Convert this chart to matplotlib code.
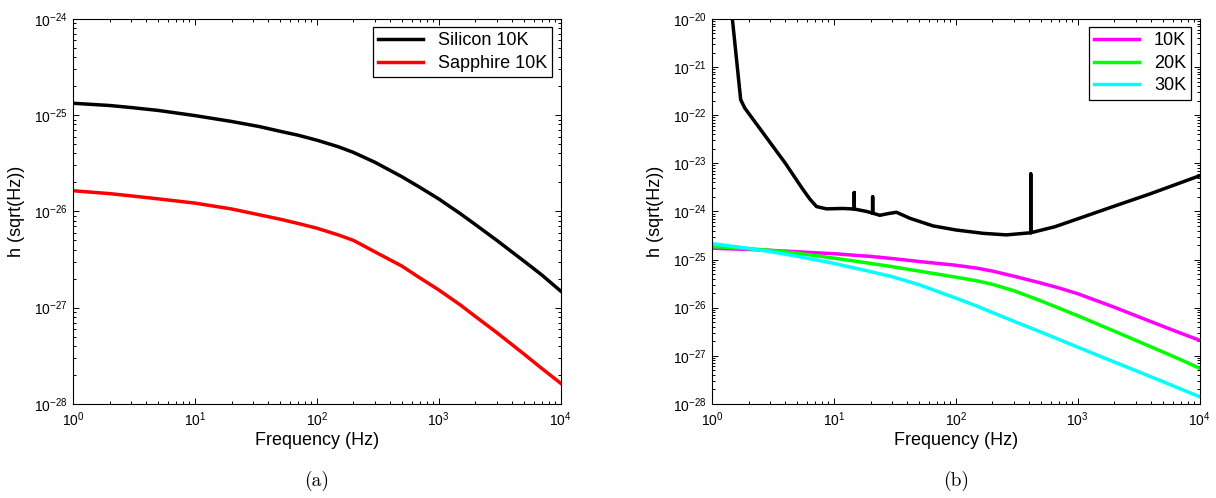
import matplotlib
matplotlib.use("Agg")
import matplotlib.pyplot as plt
from matplotlib.ticker import LogLocator, NullFormatter

plt.rcParams["font.family"] = ["Liberation Sans", "DejaVu Sans"]
plt.rcParams["mathtext.fontset"] = "custom"
plt.rcParams["mathtext.rm"] = "Liberation Sans"
plt.rcParams["mathtext.it"] = "Liberation Sans:italic"
plt.rcParams["mathtext.bf"] = "Liberation Sans:bold"

# (a) thermal noise, silicon vs sapphire at 10K
freq_a = [1, 2, 3, 5, 10, 20, 34, 50, 70, 100, 150, 200, 300, 500, 700,
          1000, 1500, 2000, 3000, 5000, 7000, 10000]
silicon_10k = [1.33e-25, 1.26e-25, 1.20e-25, 1.12e-25, 9.9e-26, 8.6e-26, 7.6e-26,
               6.8e-26, 6.2e-26, 5.5e-26, 4.7e-26, 4.1e-26, 3.24e-26, 2.29e-26,
               1.78e-26, 1.35e-26, 9.5e-27, 7.3e-27, 5.0e-27, 3.05e-27, 2.19e-27,
               1.49e-27]
sapphire_10k = [1.64e-26, 1.53e-26, 1.45e-26, 1.35e-26, 1.22e-26, 1.06e-26, 9.2e-27,
                8.3e-27, 7.5e-27, 6.7e-27, 5.7e-27, 5.0e-27, 3.8e-27, 2.7e-27,
                2.04e-27, 1.53e-27, 1.07e-27, 8.1e-28, 5.5e-28, 3.3e-28, 2.34e-28,
                1.64e-28]

# (b) detector sensitivity (black) and noise at 10K / 20K / 30K
sens_freq = [1.47, 1.59, 1.72, 1.86, 4.0, 5.5, 6.36, 7.2, 8.7, 11.9,
             14.7, 14.7, 14.7, 18.5, 20.8, 20.8, 20.8, 23.8, 27.9, 32.6,
             42, 65, 101, 168, 260, 412, 412, 412, 650, 1000,
             1500, 2075, 3900, 10000]
sens_h = [1e-20, 1.45e-21, 2.1e-22, 1.4e-22, 1.0e-23, 3.0e-24, 1.8e-24, 1.26e-24,
          1.13e-24, 1.15e-24, 1.12e-24, 2.46e-24, 1.12e-24, 1.0e-24, 9.2e-25,
          2.0e-24, 9.2e-25, 8.3e-25, 9.0e-25, 9.6e-25, 7.2e-25, 5.0e-25, 4.1e-25,
          3.5e-25, 3.25e-25, 3.6e-25, 6.0e-24, 3.6e-25, 4.8e-25, 7.0e-25,
          1.0e-24, 1.33e-24, 2.3e-24, 5.5e-24]

freq_b = [1, 2, 3, 5, 10, 20, 30, 50, 100, 150, 200, 300, 500, 700, 1000,
          2000, 3000, 5000, 7000, 10000]
h_10k = [1.72e-25, 1.62e-25, 1.55e-25, 1.45e-25, 1.32e-25, 1.16e-25, 1.05e-25,
         9.1e-26, 7.6e-26, 6.6e-26, 5.75e-26, 4.5e-26, 3.24e-26, 2.57e-26,
         1.95e-26, 1.02e-26, 6.8e-27, 4.1e-27, 2.95e-27, 2.1e-27]
h_20k = [1.86e-25, 1.68e-25, 1.55e-25, 1.35e-25, 1.07e-25, 8.3e-26, 7.1e-26,
         5.75e-26, 4.3e-26, 3.6e-26, 3.05e-26, 2.25e-26, 1.38e-26, 9.8e-27,
         6.8e-27, 3.24e-27, 2.09e-27, 1.2e-27, 8.3e-28, 5.5e-28]
h_30k = [2.14e-25, 1.70e-25, 1.46e-25, 1.17e-25, 8.3e-26, 5.6e-26, 4.4e-26,
         3.0e-26, 1.58e-26, 1.07e-26, 7.9e-27, 5.2e-27, 3.1e-27, 2.19e-27,
         1.51e-27, 7.4e-28, 4.9e-28, 2.9e-28, 2.04e-28, 1.41e-28]

fig = plt.figure(figsize=(12.16, 4.98), dpi=100)
ax1 = fig.add_axes([0.060, 0.189, 0.401, 0.773])
ax2 = fig.add_axes([0.5855, 0.189, 0.401, 0.773])

lw = 2.5
ax1.loglog(freq_a, silicon_10k, color="black", lw=lw, label="Silicon 10K")
ax1.loglog(freq_a, sapphire_10k, color="red", lw=lw, label="Sapphire 10K")
ax1.set_ylim(1e-28, 1e-24)
ax1.set_yticks([10.0 ** k for k in range(-28, -23)])

ax2.loglog(sens_freq, sens_h, color="black", lw=lw)
ax2.loglog(freq_b, h_10k, color="#ff00ff", lw=lw, label="10K")
ax2.loglog(freq_b, h_20k, color="#00ff00", lw=lw, label="20K")
ax2.loglog(freq_b, h_30k, color="#00ffff", lw=lw, label="30K")
ax2.set_ylim(1e-28, 1e-20)
ax2.set_yticks([10.0 ** k for k in range(-28, -19)])

for ax, cap in [(ax1, "(a)"), (ax2, "(b)")]:
    ax.set_xlim(1, 1e4)
    ax.set_xticks([1, 10, 100, 1000, 10000])
    ax.yaxis.set_minor_locator(LogLocator(base=10, subs=range(2, 10), numticks=50))
    ax.yaxis.set_minor_formatter(NullFormatter())
    ax.xaxis.set_minor_formatter(NullFormatter())
    ax.tick_params(which="both", direction="in", top=True, right=True, width=0.7)
    ax.tick_params(which="major", length=4, labelsize=10)
    ax.tick_params(which="minor", length=2)
    ax.tick_params(axis="x", pad=5)
    ax.tick_params(axis="y", pad=4)
    for s in ax.spines.values():
        s.set_linewidth(0.8)
    ax.set_xlabel("Frequency (Hz)", fontsize=13)
    ax.set_ylabel("h (sqrt(Hz))", fontsize=13)
    ax.xaxis.set_label_coords(0.5, -0.072)
    ax.yaxis.set_label_coords(-0.098, 0.5)
    leg = ax.legend(loc="upper right", fontsize=13, fancybox=False,
                    edgecolor="black", framealpha=1, borderaxespad=0.45,
                    handlelength=2.5, labelspacing=0.3, borderpad=0.3)
    leg.get_frame().set_linewidth(0.9)
    ax.text(0.5, -0.2, cap, transform=ax.transAxes, ha="center", va="center",
            fontsize=14, family="cmr10")

plt.savefig("out.png", dpi=100)
